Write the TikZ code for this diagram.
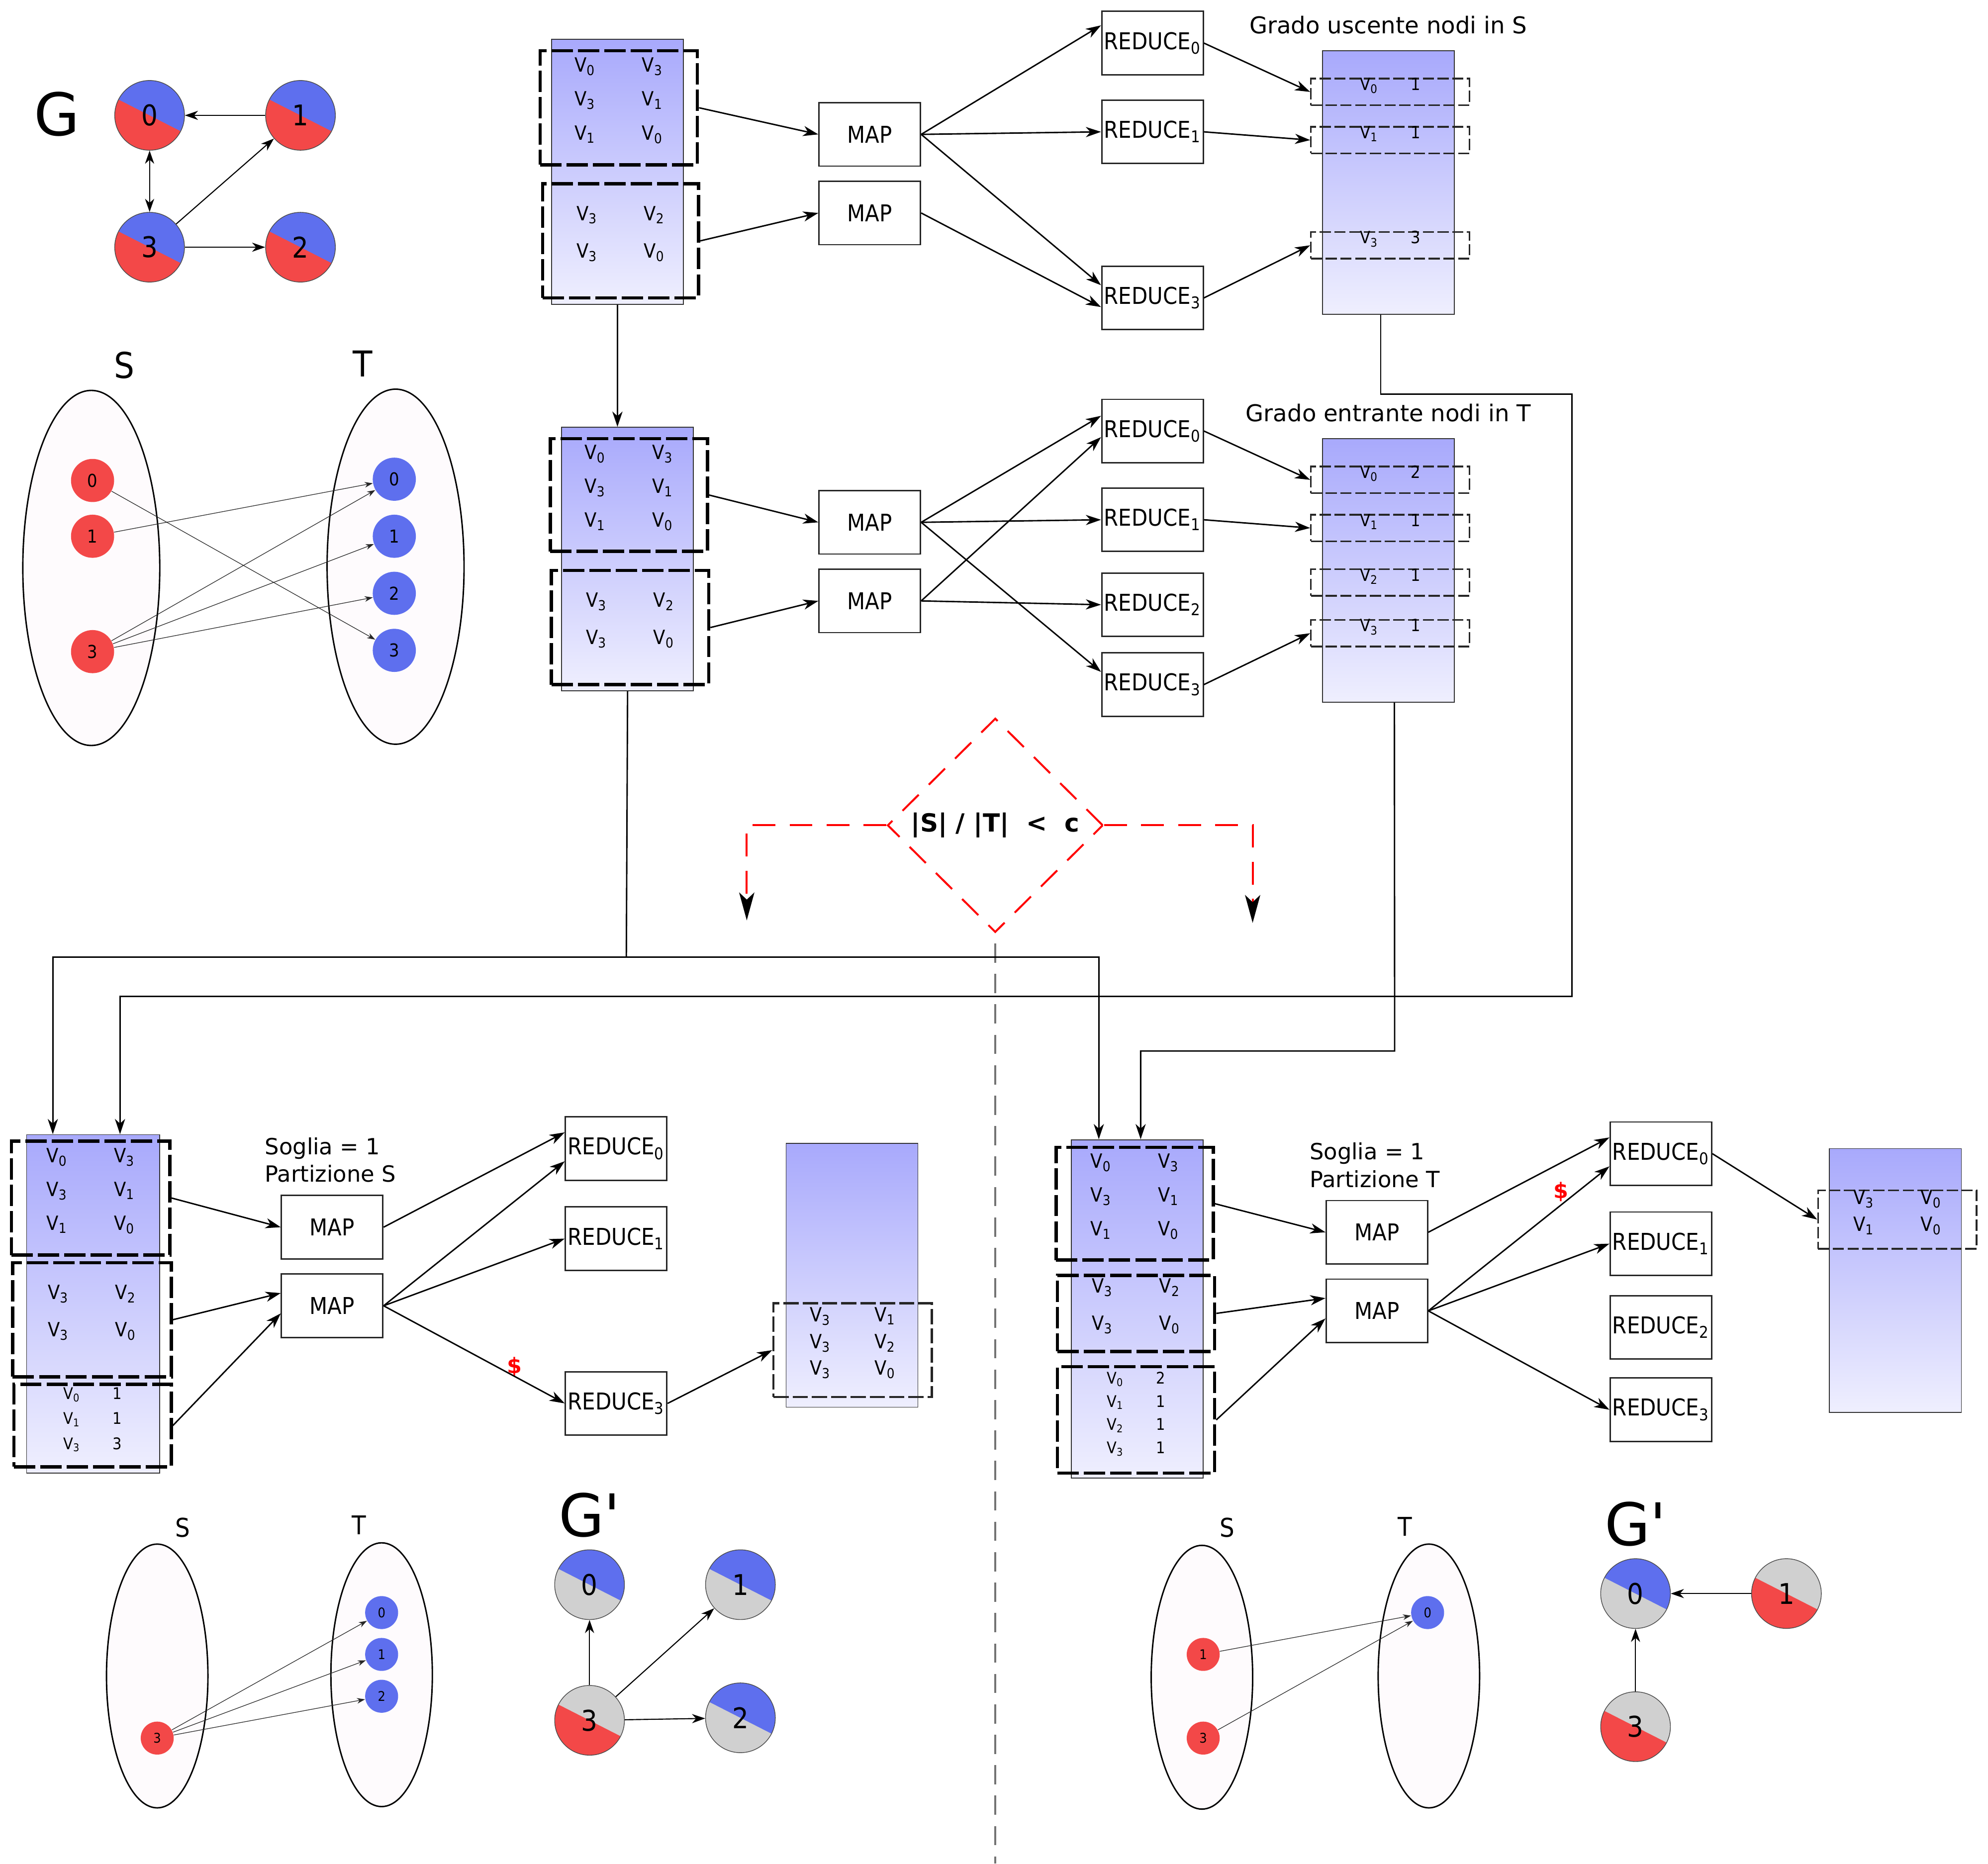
\documentclass[tikz,border=0pt]{standalone}
\usepackage{fontspec}
\setmainfont{DejaVu Sans}
\newfontfamily\cond{DejaVu Sans Condensed}
\usetikzlibrary{arrows.meta,positioning,fit,shapes.geometric}
\definecolor{nblue}{HTML}{5E6FEE}
\definecolor{nred}{HTML}{F34848}
\definecolor{ngray}{HTML}{D0D0D0}
\definecolor{coltop}{HTML}{A8A9FC}
\definecolor{colbot}{HTML}{EFEFFE}
\definecolor{setfill}{HTML}{FEFBFD}
\newcommand{\vx}[1]{V\textsubscript{#1}}
\newcommand{\vp}[3][9.2mm]{\vx{#2}\hspace{#1}\vx{#3}}
\newcommand{\vn}[3][6.4mm]{\vx{#2}\hspace{#1}#3}
\tikzset{
  datacol/.style={draw=black!80, line width=0.5pt, top color=coltop, bottom color=colbot, inner sep=0pt},
  splitbox/.style={draw=black, line width=1.9pt, dash pattern=on 4.2mm off 1mm, inner sep=0pt,
                   align=center, font=\cond\fontsize{11}{19}\selectfont},
  rowbox/.style={draw=black!85, line width=0.9pt, dash pattern=on 2.2mm off 0.7mm, inner sep=0pt,
                 align=center, font=\cond\fontsize{9.5}{13}\selectfont},
  job/.style={draw=black!85, line width=0.8pt, fill=white, minimum width=2cm, minimum height=1.25cm,
              inner sep=0pt, font=\cond\fontsize{13}{15}\selectfont},
  arr/.style={-{Stealth[length=3mm, width=2mm, inset=0.9mm]}, line width=0.8pt},
  garr/.style={-{Stealth[length=2.6mm, width=1.8mm, inset=0.8mm]}, line width=0.6pt},
  lnk/.style={-{Stealth[length=1.6mm, width=1.1mm, inset=0.5mm]}, line width=0.35pt, black!85},
  halfnode/.style 2 args={circle, draw=black!70, line width=0.4pt, minimum size=1.375cm, inner sep=0pt,
    font=\cond\fontsize{16}{18}\selectfont,
    path picture={
      \fill[#1] (path picture bounding box.south west) rectangle (path picture bounding box.north east);
      \fill[#2] ([shift={(-27:1cm)}]path picture bounding box.center)
             -- ([shift={(18:1.42cm)}]path picture bounding box.center)
             -- ([shift={(108:1.42cm)}]path picture bounding box.center)
             -- ([shift={(153:1cm)}]path picture bounding box.center) -- cycle;
    }},
  snode/.style={circle, fill=nred, inner sep=0pt, minimum size=0.85cm, font=\cond\fontsize{10}{12}\selectfont},
  tnode/.style={circle, fill=nblue, inner sep=0pt, minimum size=0.85cm, font=\cond\fontsize{10}{12}\selectfont},
  smallv/.style={minimum size=0.65cm, font=\cond\fontsize{7.5}{9}\selectfont},
  setell/.style={ellipse, draw=black, line width=0.8pt, fill=setfill, inner sep=0pt},
  setlab/.style={font=\cond\fontsize{20}{22}\selectfont},
  headlab/.style={font=\fontsize{13}{15}\selectfont},
  biglab/.style={font=\fontsize{33}{36}\selectfont, inner sep=1pt},
  dollar/.style={text=red, font=\bfseries\fontsize{12}{14}\selectfont},
  decision/.style={diamond, draw=red, line width=1.1pt, dash pattern=on 4.5mm off 2.8mm, inner sep=0pt,
                   minimum width=4.25cm, minimum height=4.22cm, font=\bfseries\fontsize{14}{16}\selectfont},
  reddash/.style={draw=red, line width=1.1pt, dash pattern=on 4.5mm off 2.8mm,
                  -{Stealth[length=5.5mm, width=3mm, inset=1.4mm, color=black]}},
  divider/.style={draw=black!55, line width=0.9pt, dash pattern=on 3.8mm off 2.2mm}
}
\begin{document}
\begin{tikzpicture}[x=0.025cm, y=-0.025cm]
  \useasboundingbox (0,0) rectangle (1568,1470);

  % graph G
  \node[biglab] (lblG) at (45,90) {G};
  \node[halfnode={nred}{nblue}] (g0) at (118,91) {0};
  \node[halfnode={nred}{nblue}] (g1) at (237,91) {1};
  \node[halfnode={nred}{nblue}] (g3) at (118,195) {3};
  \node[halfnode={nred}{nblue}] (g2) at (237,195) {2};
  \draw[garr] (g1) -- (g0);
  \draw[garr, {Stealth[length=2.6mm, width=1.8mm, inset=0.8mm]}-{Stealth[length=2.6mm, width=1.8mm, inset=0.8mm]}] (g0) -- (g3);
  \draw[garr] (g3) -- (g1);
  \draw[garr] (g3) -- (g2);

  % bipartition S / T
  \node[setlab] (labS) at (98,288) {S};
  \node[setlab] (labT) at (286,287) {T};
  \node[setell, minimum width=2.7cm, minimum height=7cm] (ellS) at (72,448) {};
  \node[setell, minimum width=2.7cm, minimum height=7cm] (ellT) at (312,447) {};
  \node[snode] (s0) at (73,379) {0};
  \node[snode] (s1) at (73,423) {1};
  \node[snode] (s3) at (73,514) {3};
  \node[tnode] (t0) at (311,378) {0};
  \node[tnode] (t1) at (311,423) {1};
  \node[tnode] (t2) at (311,468) {2};
  \node[tnode] (t3) at (311,513) {3};
  \draw[lnk] (s0) -- (t3);
  \draw[lnk] (s1) -- (t0);
  \draw[lnk] (s3) -- (t0);
  \draw[lnk] (s3) -- (t1);
  \draw[lnk] (s3) -- (t2);

  % job 1: out-degree
  \node[datacol, fit={(435,31) (539,240)}] (col1) {};
  \node[splitbox, fit={(426,40) (550,130)}] (A1) {\vp{0}{3}\\\vp{3}{1}\\\vp{1}{0}};
  \node[splitbox, fit={(428,145) (551,235)}, font=\cond\fontsize{11}{21}\selectfont] (A2) {\vp{3}{2}\\\vp{3}{0}};
  \node[job] (M1) at (686,106) {MAP};
  \node[job] (M2) at (686,168) {MAP};
  \node[job] (R0a) at (909,34) {REDUCE\textsubscript{0}};
  \node[job] (R1a) at (909,104) {REDUCE\textsubscript{1}};
  \node[job] (R3a) at (909,235) {REDUCE\textsubscript{3}};
  \node[datacol, fit={(1043,40) (1147,248)}] (res1) {};
  \node[headlab, above=2mm of res1] (head1) {Grado uscente nodi in S};
  \node[rowbox, fit={(1034,62) (1159,83)}] (ra0) {\vn{0}{1}};
  \node[rowbox, fit={(1034,100) (1159,121)}] (ra1) {\vn{1}{1}};
  \node[rowbox, fit={(1034,183) (1159,204)}] (ra3) {\vn{3}{3}};
  \draw[arr] (A1.east) -- (M1.west);
  \draw[arr] (A2.east) -- (M2.west);
  \draw[arr] (M1.east) -- ([yshift=3.5mm]R0a.west);
  \draw[arr] (M1.east) -- (R1a.west);
  \draw[arr] (M1.east) -- ([yshift=2.5mm]R3a.west);
  \draw[arr] (M2.east) -- ([yshift=-1.8mm]R3a.west);
  \draw[arr] (R0a.east) -- (ra0.west);
  \draw[arr] (R1a.east) -- (ra1.west);
  \draw[arr] (R3a.east) -- (ra3.west);

  % job 2: in-degree
  \node[datacol, fit={(443,337) (547,545)}] (col2) {};
  \node[splitbox, fit={(434,346) (558,435)}] (B1) {\vp{0}{3}\\\vp{3}{1}\\\vp{1}{0}};
  \node[splitbox, fit={(435,450) (559,540)}, font=\cond\fontsize{11}{21}\selectfont] (B2) {\vp{3}{2}\\\vp{3}{0}};
  \node[job] (M3) at (686,412) {MAP};
  \node[job] (M4) at (686,474) {MAP};
  \node[job] (R0b) at (909,340) {REDUCE\textsubscript{0}};
  \node[job] (R1b) at (909,410) {REDUCE\textsubscript{1}};
  \node[job] (R2b) at (909,477) {REDUCE\textsubscript{2}};
  \node[job] (R3b) at (909,540) {REDUCE\textsubscript{3}};
  \node[datacol, fit={(1043,346) (1147,554)}] (res2) {};
  \node[headlab, above=2mm of res2] (head2) {Grado entrante nodi in T};
  \node[rowbox, fit={(1034,368) (1159,389)}] (rb0) {\vn{0}{2}};
  \node[rowbox, fit={(1034,406) (1159,427)}] (rb1) {\vn{1}{1}};
  \node[rowbox, fit={(1034,449) (1159,470)}] (rb2) {\vn{2}{1}};
  \node[rowbox, fit={(1034,489) (1159,510)}] (rb3) {\vn{3}{1}};
  \draw[arr] (col1.south) -- (col1.south |- col2.north);
  \draw[arr] (B1.east) -- (M3.west);
  \draw[arr] (B2.east) -- (M4.west);
  \draw[arr] (M3.east) -- ([yshift=3mm]R0b.west);
  \draw[arr] (M3.east) -- (R1b.west);
  \draw[arr] (M3.east) -- ([yshift=2.5mm]R3b.west);
  \draw[arr] (M4.east) -- ([yshift=-1.2mm]R0b.west);
  \draw[arr] (M4.east) -- (R2b.west);
  \draw[arr] (R0b.east) -- (rb0.west);
  \draw[arr] (R1b.east) -- (rb1.west);
  \draw[arr] (R3b.east) -- (rb3.west);

  % test on |S|/|T|
  \node[decision] (dia) at (785,651) {|S| / |T| \ < \ c};
  \coordinate (noL) at (589,726);
  \coordinate (noR) at (988,728);
  \coordinate (endline) at (785,1470);
  \draw[reddash] (dia.west) -| (noL);
  \draw[reddash] (dia.east) -| (noR);
  \draw[divider] ([yshift=-2mm]dia.south) -- (endline);

  % job 3: threshold on S
  \node[datacol, fit={(21,895) (126,1162)}] (colL) {};
  \node[splitbox, fit={(9,900) (134,990)}] (C1) {\vp{0}{3}\\\vp{3}{1}\\\vp{1}{0}};
  \node[splitbox, fit={(10,996) (135,1086)}, font=\cond\fontsize{11}{21}\selectfont] (C2) {\vp{3}{2}\\\vp{3}{0}};
  \node[splitbox, fit={(11,1092) (135,1157)}, font=\cond\fontsize{9}{14}\selectfont] (C3) {\vn{0}{1}\\\vn{1}{1}\\\vn{3}{3}};
  \node[headlab, anchor=west, align=left, font=\fontsize{12.5}{15.5}\selectfont] (sogS) at (204,915) {Soglia = 1\\Partizione S};
  \node[job] (M5) at (262,968) {MAP};
  \node[job] (M6) at (262,1030) {MAP};
  \node[job] (R0c) at (486,906) {REDUCE\textsubscript{0}};
  \node[job] (R1c) at (486,977) {REDUCE\textsubscript{1}};
  \node[job] (R3c) at (486,1107) {REDUCE\textsubscript{3}};
  \node[dollar] (cut1) at (406,1078) {\$};
  \node[datacol, fit={(620,902) (724,1110)}] (resL) {};
  \node[rowbox, line width=1.3pt, dash pattern=on 3mm off 0.8mm, font=\cond\fontsize{11}{15}\selectfont,
        fit={(610,1028) (735,1102)}] (rc) {\vp[8.7mm]{3}{1}\\\vp[8.7mm]{3}{2}\\\vp[8.7mm]{3}{0}};
  \draw[arr] (C1.east) -- (M5.west);
  \draw[arr] (C2.east) -- ([yshift=2.5mm]M6.west);
  \draw[arr] (C3.east) -- ([yshift=-1.5mm]M6.west);
  \draw[arr] (M5.east) -- ([yshift=3.2mm]R0c.west);
  \draw[arr] (M6.east) -- ([yshift=-2.5mm]R0c.west);
  \draw[arr] (M6.east) -- (R1c.west);
  \draw[arr] (M6.east) -- (R3c.west);
  \draw[arr] (R3c.east) -- (rc.west);

  % job 4: threshold on T
  \node[datacol, fit={(845,899) (949,1166)}] (colR) {};
  \node[splitbox, fit={(833,905) (957,994)}] (D1) {\vp{0}{3}\\\vp{3}{1}\\\vp{1}{0}};
  \node[splitbox, fit={(834,1006) (958,1066)}, font=\cond\fontsize{11}{21}\selectfont] (D2) {\vp{3}{2}\\\vp{3}{0}};
  \node[splitbox, fit={(834,1078) (958,1162)}, font=\cond\fontsize{9}{13}\selectfont] (D3) {\vn{0}{2}\\\vn{1}{1}\\\vn{2}{1}\\\vn{3}{1}};
  \node[headlab, anchor=west, align=left, font=\fontsize{12.5}{15.5}\selectfont] (sogT) at (1028,919) {Soglia = 1\\Partizione T};
  \node[job] (M7) at (1086,972) {MAP};
  \node[job] (M8) at (1086,1034) {MAP};
  \node[job] (R0d) at (1310,910) {REDUCE\textsubscript{0}};
  \node[job] (R1d) at (1310,981) {REDUCE\textsubscript{1}};
  \node[job] (R2d) at (1310,1047) {REDUCE\textsubscript{2}};
  \node[job] (R3d) at (1310,1112) {REDUCE\textsubscript{3}};
  \node[dollar] (cut2) at (1231,940) {\$};
  \node[datacol, fit={(1443,906) (1547,1114)}] (resR) {};
  \node[rowbox, line width=1pt, font=\cond\fontsize{11}{15}\selectfont,
        fit={(1434,939) (1559,985)}] (rd) {\vp{3}{0}\\\vp{1}{0}};
  \draw[arr] (D1.east) -- (M7.west);
  \draw[arr] (D2.east) -- ([yshift=2.5mm]M8.west);
  \draw[arr] (D3.east) -- ([yshift=-1.5mm]M8.west);
  \draw[arr] (M7.east) -- ([yshift=3.2mm]R0d.west);
  \draw[arr] (M8.east) -- ([yshift=-2.5mm]R0d.west);
  \draw[arr] (M8.east) -- (R1d.west);
  \draw[arr] (M8.east) -- (R3d.west);
  \draw[arr] (R0d.east) -- (rd.west);

  % long connectors between jobs
  \coordinate (j1) at (494,755);
  \coordinate (k1) at (1240,311);
  \coordinate (k2) at (1240,786);
  \coordinate (k3) at (1100,829);
  \draw[line width=0.8pt] (col2.south) -- (j1);
  \draw[arr] (j1) -| ([xshift=0.525cm]colL.north west);
  \draw[arr] (j1) -| ([xshift=0.55cm]colR.north west);
  \draw[arr] ([xshift=-0.15cm]res1.south) |- (k1) -- (k2) -| ([xshift=1.85cm]colL.north west);
  \draw[arr] ([xshift=0.12cm]res2.south) -- (k3) -| ([xshift=1.375cm]colR.north west);

  % result on S
  \node[setlab, font=\cond\fontsize{14.5}{16}\selectfont] (labS2) at (144,1205) {S};
  \node[setlab, font=\cond\fontsize{14.5}{16}\selectfont] (labT2) at (283,1203) {T};
  \node[setell, minimum width=2cm, minimum height=5.2cm] (ellS2) at (124,1322) {};
  \node[setell, minimum width=2cm, minimum height=5.2cm] (ellT2) at (301,1321) {};
  \node[snode, smallv] (u3) at (124,1371) {3};
  \node[tnode, smallv] (v0) at (301,1272) {0};
  \node[tnode, smallv] (v1) at (301,1305) {1};
  \node[tnode, smallv] (v2) at (301,1338) {2};
  \draw[lnk] (u3) -- (v0);
  \draw[lnk] (u3) -- (v1);
  \draw[lnk] (u3) -- (v2);
  \node[halfnode={ngray}{nblue}] (h0) at (465,1250) {0};
  \node[halfnode={ngray}{nblue}] (h1) at (584,1250) {1};
  \node[halfnode={nred}{ngray}] (h3) at (465,1357) {3};
  \node[halfnode={ngray}{nblue}] (h2) at (584,1355) {2};
  \node[biglab, above=2mm of h0] (lblGS) {G\textquotesingle};
  \draw[garr] (h3) -- (h0);
  \draw[garr] (h3) -- (h1);
  \draw[garr] (h3) -- (h2);

  % result on T
  \node[setlab, font=\cond\fontsize{14.5}{16}\selectfont] (labS3) at (968,1205) {S};
  \node[setlab, font=\cond\fontsize{14.5}{16}\selectfont] (labT3) at (1108,1204) {T};
  \node[setell, minimum width=2cm, minimum height=5.2cm] (ellS3) at (948,1323) {};
  \node[setell, minimum width=2cm, minimum height=5.2cm] (ellT3) at (1127,1322) {};
  \node[snode, smallv] (w1) at (949,1305) {1};
  \node[snode, smallv] (w3) at (949,1371) {3};
  \node[tnode, smallv] (x0) at (1126,1272) {0};
  \draw[lnk] (w1) -- (x0);
  \draw[lnk] (w3) -- (x0);
  \node[halfnode={ngray}{nblue}] (q0) at (1290,1257) {0};
  \node[halfnode={nred}{ngray}] (q1) at (1409,1257) {1};
  \node[halfnode={nred}{ngray}] (q3) at (1290,1362) {3};
  \node[biglab, above=2mm of q0] (lblGT) {G\textquotesingle};
  \draw[garr] (q1) -- (q0);
  \draw[garr] (q3) -- (q0);
\end{tikzpicture}
\end{document}
